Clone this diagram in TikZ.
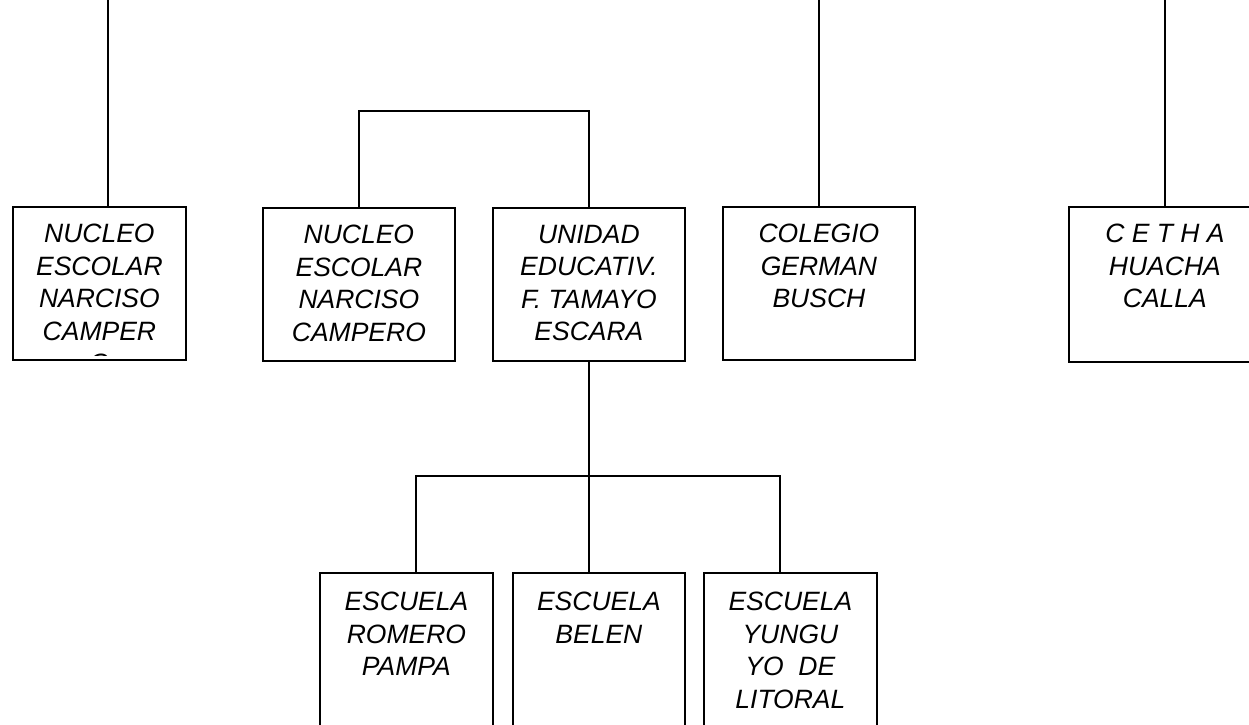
\documentclass[tikz,border=0pt]{standalone}
\usepackage{fontspec}
\setmainfont{Liberation Sans}
\usetikzlibrary{calc}

\begin{document}
\begin{tikzpicture}[x=1pt,y=-1pt,
  caja/.style={rectangle,draw=black,line width=1.8pt,anchor=north west,
    minimum height=153pt,inner sep=0pt},
  linea/.style={line width=1.8pt},
  rotulo/.style={anchor=north,align=center,inner sep=0pt,
    font=\fontsize{26.5}{32.5}\selectfont\itshape}]
  \useasboundingbox (0,0) rectangle (1249,724);

  % first row
  \node[caja,minimum width=173pt] at (12,206) (a) {};
  \node[caja,minimum width=192pt] at (262,207) (b) {};
  \node[caja,minimum width=192pt] at (492,207) (c) {};
  \node[caja,minimum width=192pt] at (722,206) (d) {};
  \node[caja,minimum width=192pt,minimum height=155pt] at (1068,206) (e) {};

  \begin{scope}
    \clip (a.north west) rectangle ($(a.south east)+(0,-5)$);
    \node[rotulo,yshift=-18pt] at (a.north) (al) {NUCLEO\\ESCOLAR\\NARCISO\\CAMPER\\O};
  \end{scope}
  \node[rotulo,yshift=-18pt] at (b.north) (bl) {NUCLEO\\ESCOLAR\\NARCISO\\CAMPERO};
  \node[rotulo,yshift=-18pt] at (c.north) (cl) {UNIDAD\\EDUCATIV.\\F. TAMAYO\\ESCARA};
  \node[rotulo,yshift=-18pt] at (d.north) (dl) {COLEGIO\\GERMAN\\BUSCH};
  \node[rotulo,yshift=-18pt] at (e.north) (el) {C E T H A\\HUACHA\\CALLA};

  % second row
  \node[caja,minimum width=173pt,minimum height=200pt] at (319,572) (f) {};
  \node[caja,minimum width=172pt,minimum height=200pt] at (512,572) (g) {};
  \node[caja,minimum width=173pt,minimum height=200pt] at (703,572) (h) {};

  \node[rotulo,yshift=-20pt] at (f.north) (fl) {ESCUELA\\ROMERO\\PAMPA};
  \node[rotulo,yshift=-20pt] at (g.north) (gl) {ESCUELA\\BELEN};
  \node[rotulo,yshift=-20pt] at (h.north) (hl) {ESCUELA\\YUNGU\\YO~ DE\\LITORAL};

  % connectors
  \coordinate (ta) at (108,0);
  \coordinate (td) at (819,0);
  \coordinate (te) at (1165,0);
  \coordinate (arriba) at (0,111);
  \coordinate (bus) at (0,476);
  \coordinate (pf) at (416,476);
  \coordinate (ph) at (780,476);

  \draw[linea] (ta) -- (ta |- a.north);
  \draw[linea] (td) -- (td |- d.north);
  \draw[linea] (te) -- (te |- e.north);
  \draw[linea] (b.north) -- (b.north |- arriba) -- (c.north |- arriba) -- (c.north);
  \draw[linea] (c.south) -- (c.south |- bus);
  \draw[linea] (pf |- f.north) -- (pf) -- (ph) -- (ph |- h.north);
  \draw[linea] (c.south |- bus) -- (c.south |- g.north);
\end{tikzpicture}
\end{document}
